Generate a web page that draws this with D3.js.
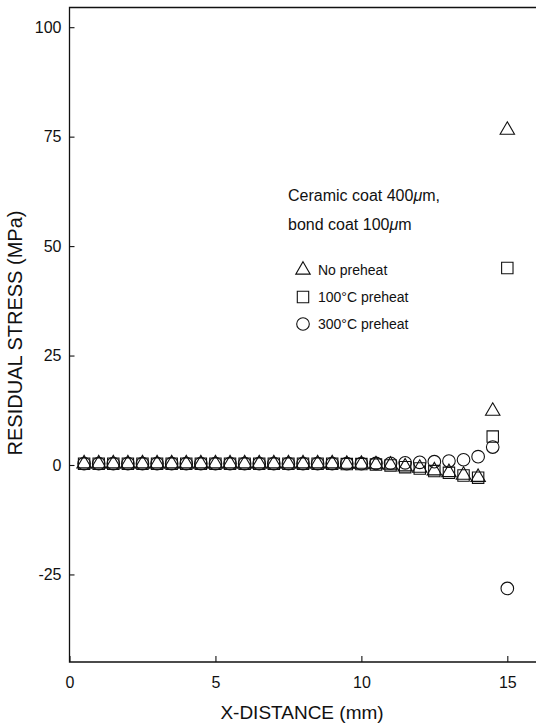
<!DOCTYPE html>
<html>
<head>
<meta charset="utf-8">
<script src="https://cdn.jsdelivr.net/npm/d3@7"></script>
<style>
  body { margin: 0; background: #fff; }
  svg text { font-family: "Liberation Sans", Arial, Helvetica, sans-serif; fill: #111; }
</style>
</head>
<body>
<svg id="chart" width="536" height="727"></svg>
<script>
// x positions (mm)
const xDist = [0.5, 1, 1.5, 2, 2.5, 3, 3.5, 4, 4.5, 5, 5.5, 6, 6.5, 7, 7.5, 8, 8.5, 9, 9.5,
  10, 10.5, 11, 11.5, 12, 12.5, 13, 13.5, 14, 14.5, 15]

// residual stress (MPa)
const noPreheat = [0.3, 0.3, 0.3, 0.3, 0.3, 0.3, 0.3, 0.3, 0.3, 0.3, 0.3, 0.3, 0.3, 0.3, 0.3, 0.3, 0.3, 0.3, 0.2,
  0.2, 0.1, 0, -0.4, -0.7, -1.3, -1.7, -2.3, -2.8, 12.3, 76.5]
const preheat100 = [0.3, 0.3, 0.3, 0.3, 0.3, 0.3, 0.3, 0.3, 0.3, 0.3, 0.3, 0.3, 0.3, 0.3, 0.3, 0.3, 0.3, 0.3, 0.2,
  0.2, 0.1, -0.1, -0.5, -0.8, -1.4, -1.8, -2.4, -2.9, 6.5, 45]
const preheat300 = [0.3, 0.3, 0.3, 0.3, 0.3, 0.3, 0.3, 0.3, 0.3, 0.3, 0.3, 0.3, 0.3, 0.3, 0.3, 0.3, 0.3, 0.3, 0.3,
  0.3, 0.35, 0.4, 0.5, 0.6, 0.75, 0.9, 1.2, 1.9, 4.1, -28.2]

const xTicks = [0, 5, 10, 15]
const yTicks = [-25, 0, 25, 50, 75, 100]

const seriesNames = ['No preheat', '100\u00B0C preheat', '300\u00B0C preheat']
const seriesShapes = [d3.symbolTriangle, d3.symbolSquare, d3.symbolCircle]
const seriesSizes = [90, 130, 125]
const seriesValues = [noPreheat, preheat100, preheat300]

const svg = d3.select('#chart')

let xScale = d3.scaleLinear().domain([0, 16]).range([69.5, 536.5])
let yScale = d3.scaleLinear().domain([-45, 104.5]).range([662, 7.5])

// frame: left, top, bottom (no right side)
const x0 = xScale(0), y0 = yScale(-45), yTop = yScale(104.5)
svg.append('path')
  .attr('d', `M${xScale(16)},${yTop}H${x0}V${y0}H${xScale(16)}`)
  .attr('fill', 'none')
  .attr('stroke', '#111')
  .attr('stroke-width', 1.3)

let xAxis = d3.axisBottom(xScale)
  .tickValues(xTicks)
  .tickSizeInner(-6)
  .tickSizeOuter(0)
  .tickPadding(15)
  .tickFormat(d => String(d))

let yAxis = d3.axisLeft(yScale)
  .tickValues(yTicks)
  .tickSizeInner(-5)
  .tickSizeOuter(0)
  .tickPadding(8)
  .tickFormat(d => String(d))

svg.append('g')
  .attr('class', 'x-axis')
  .attr('transform', `translate(0,${y0})`)
  .call(xAxis)
  .call(g => g.select('.domain').remove())

svg.append('g')
  .attr('class', 'y-axis')
  .attr('transform', `translate(${x0},0)`)
  .call(yAxis)
  .call(g => g.select('.domain').remove())

svg.selectAll('.x-axis text, .y-axis text')
  .style('font-size', '16px')
  .attr('fill', '#111')
svg.selectAll('.tick line').attr('stroke', '#111').attr('stroke-width', 1.1)

// axis titles
svg.append('text')
  .text('X-DISTANCE (mm)')
  .attr('x', 302)
  .attr('y', 719)
  .attr('text-anchor', 'middle')
  .style('font-size', '19px')

svg.append('text')
  .text('RESIDUAL STRESS (MPa)')
  .attr('transform', `translate(22,333)rotate(-90)`)
  .attr('text-anchor', 'middle')
  .style('font-size', '20px')

// markers
const symbolGen = d3.symbol()
seriesValues.forEach((vals, s) => {
  svg.append('g')
    .attr('class', `series-${s}`)
    .selectAll('path')
    .data(vals)
    .enter()
    .append('path')
    .attr('transform', (d, i) => `translate(${xScale(xDist[i])},${yScale(d)})`)
    .attr('d', symbolGen.type(seriesShapes[s]).size(seriesSizes[s])())
    .attr('fill', 'none')
    .attr('stroke', '#111')
    .attr('stroke-width', 1.1)
})

// annotation
let note = svg.append('text').attr('x', 288).attr('y', 201).style('font-size', '16px')
note.append('tspan').text('Ceramic coat 400')
note.append('tspan').text('\u03BC').style('font-style', 'italic')
note.append('tspan').text('m,')

let note2 = svg.append('text').attr('x', 288).attr('y', 230).style('font-size', '16px')
note2.append('tspan').text('bond coat 100')
note2.append('tspan').text('\u03BC').style('font-style', 'italic')
note2.append('tspan').text('m')

// legend
const legendY = [270, 297, 324]
seriesNames.forEach((name, s) => {
  svg.append('path')
    .attr('transform', `translate(303,${legendY[s]})`)
    .attr('d', symbolGen.type(seriesShapes[s]).size(seriesSizes[s])())
    .attr('fill', 'none')
    .attr('stroke', '#111')
    .attr('stroke-width', 1.1)
  svg.append('text')
    .text(name)
    .attr('x', 318)
    .attr('y', legendY[s] + 5)
    .style('font-size', '14px')
})
</script>
</body>
</html>
